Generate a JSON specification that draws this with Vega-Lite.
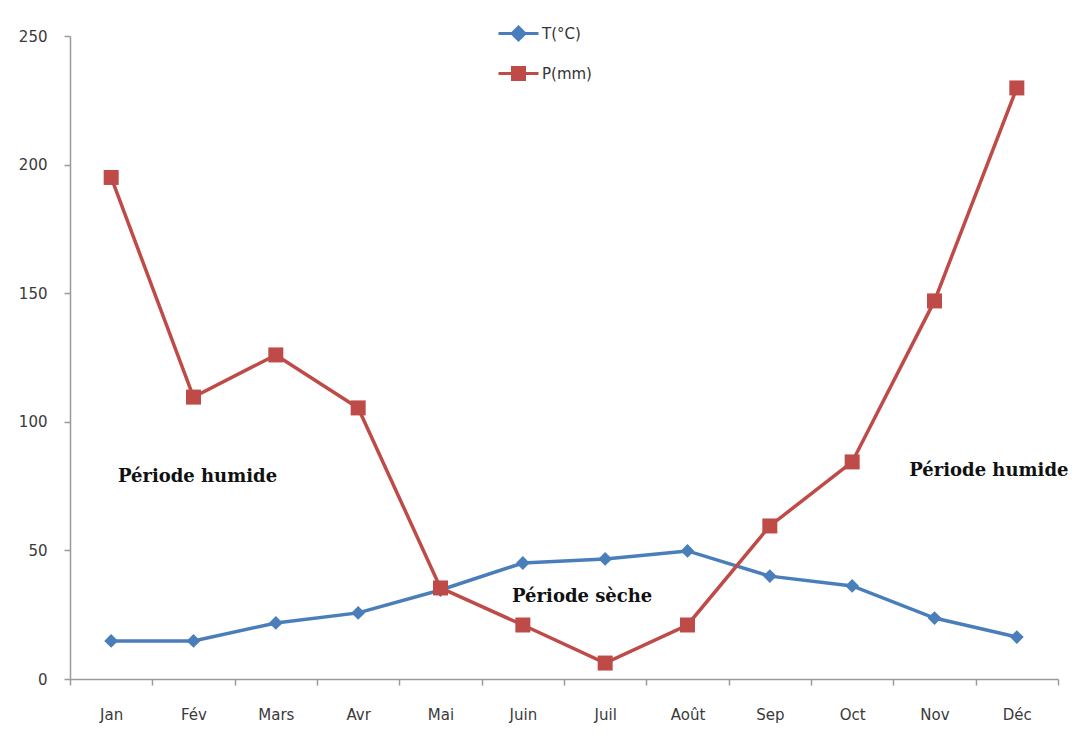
{
  "$schema": "https://vega.github.io/schema/vega-lite/v6.json",
  "width": 988,
  "height": 643,
  "autosize": "none",
  "padding": {"left": 70, "top": 36, "right": 33, "bottom": 73},
  "background": "white",
  "config": {
    "view": {"stroke": null},
    "font": "DejaVu Sans"
  },
  "datasets": {
    "climate": [
      {"mois": "Jan", "serie": "T(°C)", "valeur": 14.8},
      {"mois": "Fév", "serie": "T(°C)", "valeur": 14.8},
      {"mois": "Mars", "serie": "T(°C)", "valeur": 21.8},
      {"mois": "Avr", "serie": "T(°C)", "valeur": 25.7},
      {"mois": "Mai", "serie": "T(°C)", "valeur": 34.6},
      {"mois": "Juin", "serie": "T(°C)", "valeur": 45.1},
      {"mois": "Juil", "serie": "T(°C)", "valeur": 46.7},
      {"mois": "Août", "serie": "T(°C)", "valeur": 49.8},
      {"mois": "Sep", "serie": "T(°C)", "valeur": 40.0},
      {"mois": "Oct", "serie": "T(°C)", "valeur": 36.2},
      {"mois": "Nov", "serie": "T(°C)", "valeur": 23.7},
      {"mois": "Déc", "serie": "T(°C)", "valeur": 16.3},
      {"mois": "Jan", "serie": "P(mm)", "valeur": 195},
      {"mois": "Fév", "serie": "P(mm)", "valeur": 109.6},
      {"mois": "Mars", "serie": "P(mm)", "valeur": 126},
      {"mois": "Avr", "serie": "P(mm)", "valeur": 105.4},
      {"mois": "Mai", "serie": "P(mm)", "valeur": 35.4},
      {"mois": "Juin", "serie": "P(mm)", "valeur": 21},
      {"mois": "Juil", "serie": "P(mm)", "valeur": 6.2},
      {"mois": "Août", "serie": "P(mm)", "valeur": 21},
      {"mois": "Sep", "serie": "P(mm)", "valeur": 59.5},
      {"mois": "Oct", "serie": "P(mm)", "valeur": 84.4},
      {"mois": "Nov", "serie": "P(mm)", "valeur": 147},
      {"mois": "Déc", "serie": "P(mm)", "valeur": 229.8}
    ],
    "periodes": [
      {"id": "h1", "mois": "Fév", "valeur": 78.5, "texte": "Période humide"},
      {"id": "s", "mois": "Juil", "valeur": 32, "texte": "Période sèche"},
      {"id": "h2", "mois": "Déc", "valeur": 81, "texte": "Période humide"}
    ]
  },
  "encoding": {
    "x": {
      "field": "mois",
      "type": "nominal",
      "sort": ["Jan", "Fév", "Mars", "Avr", "Mai", "Juin", "Juil", "Août", "Sep", "Oct", "Nov", "Déc"],
      "scale": {"type": "band", "paddingInner": 0, "paddingOuter": 0},
      "axis": {
        "title": null,
        "labelAngle": 0,
        "labelFont": "DejaVu Sans",
        "labelFontSize": 15,
        "labelColor": "#3a3a3a",
        "labelPadding": 22,
        "domainColor": "#9a9a9a",
        "domainWidth": 1.5,
        "tickColor": "#9a9a9a",
        "tickWidth": 1.5,
        "tickSize": 6,
        "tickBand": "extent",
        "grid": false
      }
    },
    "y": {
      "field": "valeur",
      "type": "quantitative",
      "scale": {"domain": [0, 250], "nice": false},
      "axis": {
        "title": null,
        "values": [0, 50, 100, 150, 200, 250],
        "labelFont": "DejaVu Sans",
        "labelFontSize": 15,
        "labelColor": "#3a3a3a",
        "labelPadding": 17,
        "domainColor": "#9a9a9a",
        "domainWidth": 1.5,
        "tickColor": "#9a9a9a",
        "tickWidth": 1.5,
        "tickSize": 6,
        "grid": false
      }
    }
  },
  "layer": [
    {
      "data": {"name": "climate"},
      "mark": {"type": "line", "strokeWidth": 3.5},
      "encoding": {
        "color": {
          "field": "serie",
          "type": "nominal",
          "sort": ["T(°C)", "P(mm)"],
          "scale": {"domain": ["T(°C)", "P(mm)"], "range": ["#4a7ebb", "#be4b48"]},
          "legend": {
            "title": null,
            "orient": "none",
            "legendX": 427,
            "legendY": -24,
            "direction": "vertical",
            "rowPadding": 6,
            "symbolSize": 1600,
            "symbolStrokeWidth": 3,
            "labelFont": "DejaVu Sans",
            "labelFontSize": 15,
            "labelColor": "#333333",
            "labelOffset": 2,
            "encode": {
              "symbols": {
                "update": {
                  "shape": {"signal": "datum.value === 'T(°C)' ? 'M-1,0H1M0,-0.32L0.32,0L0,0.32L-0.32,0Z' : 'M-1,0H1M-0.3,-0.3H0.3V0.3H-0.3Z'"},
                  "fillOpacity": {"value": 1}
                }
              }
            }
          }
        }
      }
    },
    {
      "data": {"name": "climate"},
      "transform": [{"filter": "datum.serie === 'T(°C)'"}],
      "mark": {"type": "point", "shape": "diamond", "size": 190, "filled": true, "opacity": 1},
      "encoding": {"color": {"field": "serie", "type": "nominal", "legend": null}}
    },
    {
      "data": {"name": "climate"},
      "transform": [{"filter": "datum.serie === 'P(mm)'"}],
      "mark": {"type": "point", "shape": "square", "size": 225, "filled": true, "opacity": 1},
      "encoding": {"color": {"field": "serie", "type": "nominal", "legend": null}}
    },
    {
      "data": {"name": "periodes"},
      "transform": [{"filter": "datum.id === 'h1'"}],
      "mark": {"type": "text", "font": "DejaVu Serif", "fontWeight": "bold", "fontSize": 18, "color": "#111111", "dx": 4},
      "encoding": {"text": {"field": "texte"}}
    },
    {
      "data": {"name": "periodes"},
      "transform": [{"filter": "datum.id === 's'"}],
      "mark": {"type": "text", "font": "DejaVu Serif", "fontWeight": "bold", "fontSize": 18, "color": "#111111", "dx": -23},
      "encoding": {"text": {"field": "texte"}}
    },
    {
      "data": {"name": "periodes"},
      "transform": [{"filter": "datum.id === 'h2'"}],
      "mark": {"type": "text", "font": "DejaVu Serif", "fontWeight": "bold", "fontSize": 18, "color": "#111111", "dx": -28},
      "encoding": {"text": {"field": "texte"}}
    }
  ]
}
